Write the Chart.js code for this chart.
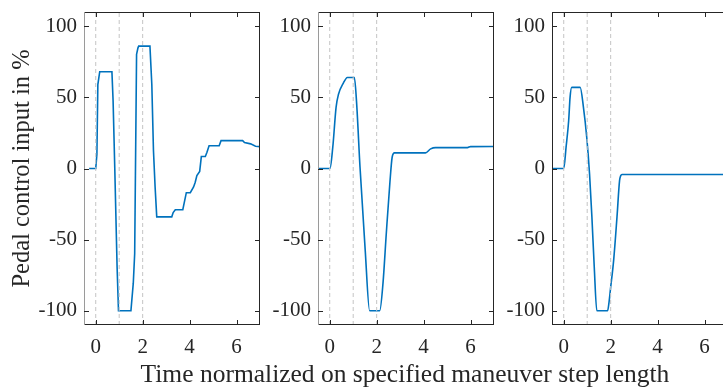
<!DOCTYPE html>
<html>
<head>
<meta charset="utf-8">
<script src="https://cdn.jsdelivr.net/npm/chart.js@4/dist/chart.umd.min.js"></script>
<style>
  html, body { margin: 0; padding: 0; background: #fff; }
  body { width: 723px; height: 388px; position: relative; overflow: hidden; }
  canvas { position: absolute; top: 0; }
  #xtitle {
    position: absolute; left: 0; width: 810px; top: 359px; text-align: center;
    font-family: "Liberation Serif", serif; font-size: 25.5px; color: #262626; line-height: 30px;
  }
</style>
</head>
<body>
<canvas id="c1" width="270" height="388" style="left:0px"></canvas>
<canvas id="c2" width="270" height="388" style="left:234px"></canvas>
<canvas id="c3" width="270" height="388" style="left:468px"></canvas>
<div id="xtitle">Time normalized on specified maneuver step length</div>
<script>
// values (time normalized, pedal input %)
let x1 = [-0.28, 0, 0.05, 0.09, 0.17, 0.69, 0.74, 0.81, 0.91, 0.97, 1.5, 1.6, 1.66, 1.74, 1.8, 1.83, 2.31, 2.39, 2.46, 2.53, 2.6, 3.24, 3.3, 3.39, 3.71, 3.86, 4.03, 4.17, 4.24, 4.31, 4.43, 4.5, 4.67, 4.74, 4.83, 5.26, 5.34, 6.26, 6.34, 6.6, 6.81, 7.0];
let y1 = [0, 0, 10, 59, 68, 68, 47.5, 1, -69, -100, -100, -80.6, -59.7, 80.2, 84.8, 86, 86, 59, 12.6, -13, -34, -34, -31, -29, -29, -17, -17, -13, -9.6, -5, -2, 8.4, 8.4, 11.4, 16, 16, 19.6, 19.6, 18.2, 17.3, 15.6, 15.4];

let x2 = [-0.46, 0.01, 0.13, 0.27, 0.37, 0.58, 0.75, 1.05, 1.14, 1.29, 1.51, 1.7, 2.13, 2.27, 2.41, 2.56, 2.66, 2.76, 4.08, 4.3, 4.51, 5.87, 6.0, 7.0];
let y2 = [0, 0, 15, 43, 52, 60, 64, 64, 47.5, 1, -57, -100, -100, -80.6, -45.7, -10.7, 7.9, 11, 11, 13.8, 14.7, 14.7, 15.4, 15.5];

let x3 = [-0.46, 0, 0.1, 0.21, 0.27, 0.34, 0.7, 0.84, 0.98, 1.1, 1.2, 1.3, 1.41, 1.87, 1.93, 1.99, 2.13, 2.27, 2.38, 2.43, 2.48, 7.0];
let y3 = [0, 0, 15, 33.6, 50, 57, 57, 43, 22, -3.7, -34, -69, -100, -100, -94, -85, -64, -34, -8.4, -5, -4.2, -4.2];

let stepMarks = [0, 1, 2];
let xTicks = [0, 2, 4, 6];
let yTicks = [-100, -50, 0, 50, 100];
let xRange = [-0.5, 7];
let yRange = [-110, 110];

const FONT = "'Liberation Serif', 'Times New Roman', serif";
const INK = '#262626';

// MATLAB style box with inward ticks
const boxPlugin = {
  id: 'box',
  afterDraw(chart, args, opts) {
    const { ctx, chartArea: a, scales } = chart;
    ctx.save();
    ctx.lineWidth = 1;
    ctx.strokeStyle = INK;
    ctx.beginPath();
    ctx.moveTo(a.left, a.top + 0.5); ctx.lineTo(a.right, a.top + 0.5);
    ctx.moveTo(a.right - 0.5, a.top); ctx.lineTo(a.right - 0.5, a.bottom);
    ctx.moveTo(a.left, a.bottom - 0.5); ctx.lineTo(a.right, a.bottom - 0.5);
    ctx.stroke();
    ctx.strokeStyle = opts.leftColor || INK;
    ctx.beginPath();
    ctx.moveTo(a.left + 0.5, a.top); ctx.lineTo(a.left + 0.5, a.bottom);
    ctx.stroke();
    ctx.strokeStyle = INK;
    const tl = 5;
    ctx.beginPath();
    scales.x.ticks.forEach(t => {
      const px = Math.round(scales.x.getPixelForValue(t.value)) + 0.5;
      ctx.moveTo(px, a.top); ctx.lineTo(px, a.top + tl);
      ctx.moveTo(px, a.bottom); ctx.lineTo(px, a.bottom - tl);
    });
    scales.y.ticks.forEach(t => {
      const py = Math.round(scales.y.getPixelForValue(t.value)) + 0.5;
      ctx.moveTo(a.left, py); ctx.lineTo(a.left + tl, py);
      ctx.moveTo(a.right, py); ctx.lineTo(a.right - tl, py);
    });
    ctx.stroke();
    ctx.restore();
  }
};

function makePanel(id, xs, ys, showTitle, leftColor, smooth) {
  const curve = xs.map((x, i) => ({ x: x, y: ys[i] }));
  const marks = stepMarks.map(m => ({
    data: [{ x: m, y: yRange[0] }, { x: m, y: yRange[1] }],
    borderColor: '#c4c4c4',
    borderWidth: 1,
    borderDash: [4, 3],
    pointRadius: 0
  }));
  return new Chart(id, {
    type: 'line',
    data: {
      datasets: [...marks, {
        data: curve,
        borderColor: '#0072BD',
        borderWidth: 1.6,
        pointRadius: 0,
        cubicInterpolationMode: smooth ? 'monotone' : 'default',
        tension: 0
      }]
    },
    options: {
      responsive: false,
      animation: false,
      events: [],
      layout: { padding: { top: 12, right: 10, left: 0, bottom: 0 } },
      plugins: { legend: { display: false }, tooltip: { enabled: false }, box: { leftColor: leftColor } },
      scales: {
        x: {
          type: 'linear', min: xRange[0], max: xRange[1],
          afterBuildTicks: s => { s.ticks = xTicks.map(v => ({ value: v })); },
          afterFit: s => { s.height = 63; s.paddingLeft = 0; s.paddingRight = 0; },
          grid: { display: false },
          border: { display: false },
          ticks: { color: INK, font: { family: FONT, size: 21 }, padding: 2, maxRotation: 0 }
        },
        y: {
          type: 'linear', min: yRange[0], max: yRange[1],
          afterBuildTicks: s => { s.ticks = yTicks.map(v => ({ value: v })); },
          afterFit: s => { s.width = 84; s.paddingTop = 0; s.paddingBottom = 0; },
          grid: { display: false, drawTicks: false },
          border: { display: false },
          ticks: { color: INK, font: { family: FONT, size: 21 }, padding: 7 },
          title: {
            display: showTitle, text: 'Pedal control input in %', color: INK,
            font: { family: FONT, size: 24.5 }, padding: { top: 8, bottom: 0 }
          }
        }
      }
    },
    plugins: [boxPlugin]
  });
}

makePanel('c1', x1, y1, true, '#9a9a9a', false);
makePanel('c2', x2, y2, false, '#9a9a9a', true);
makePanel('c3', x3, y3, false, INK, true);
</script>
</body>
</html>
